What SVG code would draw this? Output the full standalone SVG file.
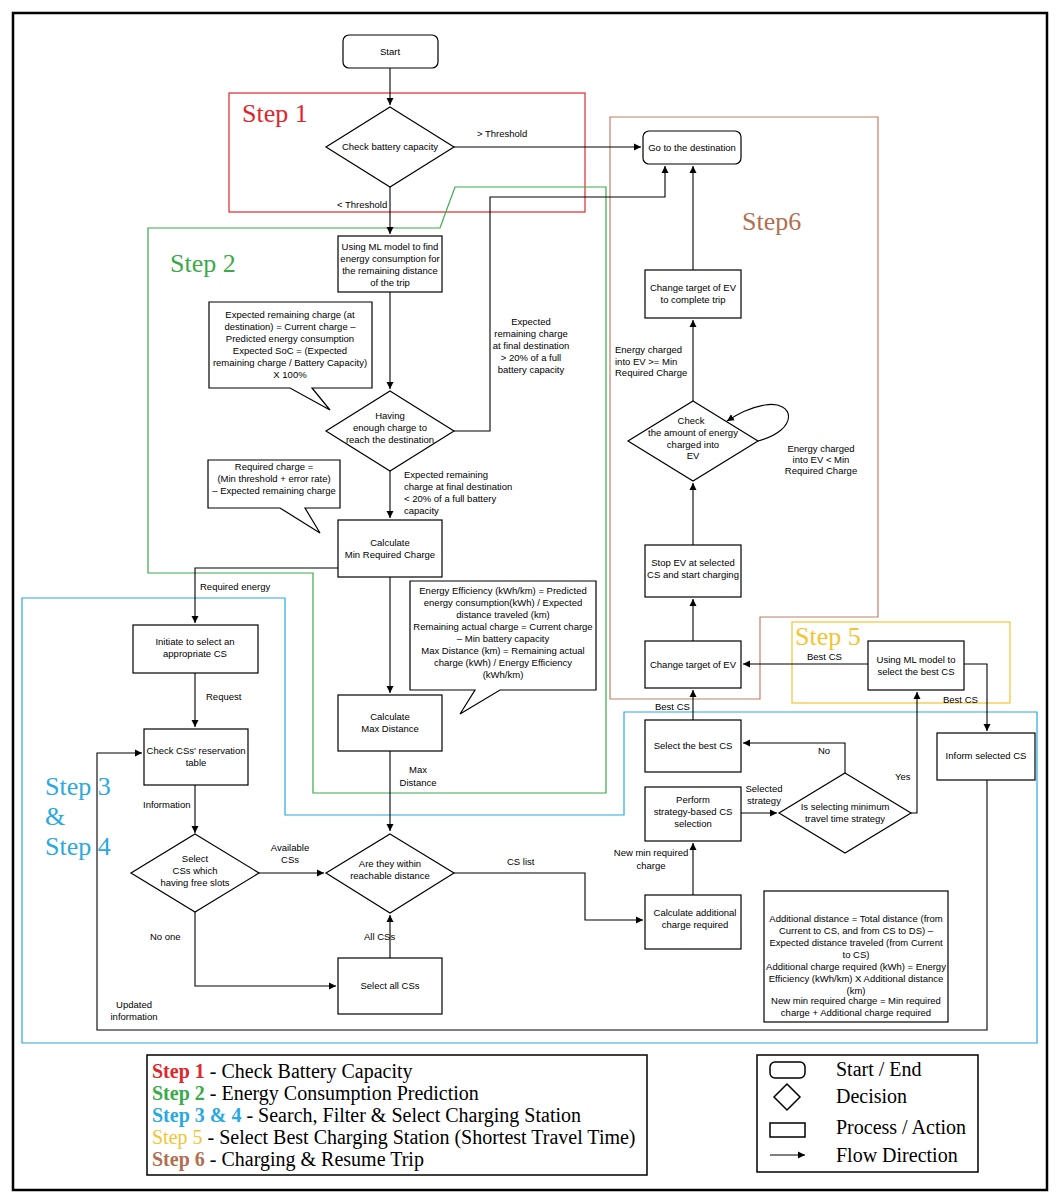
<svg xmlns="http://www.w3.org/2000/svg" width="1060" height="1200" viewBox="0 0 1060 1200">
<style>
.b{fill:#fff;stroke:#000;stroke-width:1.2}
.t{font-family:"Liberation Sans",Arial,sans-serif;font-size:9.5px;fill:#000;text-anchor:middle}
.l{font-family:"Liberation Sans",Arial,sans-serif;font-size:9.5px;fill:#000}
.c{fill:none;stroke:#000;stroke-width:1.1}
.s{font-family:"Liberation Serif","Times New Roman",serif;font-size:26px}
.g{font-family:"Liberation Serif","Times New Roman",serif;font-size:20px;fill:#000}
</style>
<defs><marker id="a" markerWidth="8" markerHeight="8" refX="7" refY="4" orient="auto" markerUnits="userSpaceOnUse"><path d="M0,0.5 L7,4 L0,7.5z" fill="#000"/></marker></defs>
<rect x="0" y="0" width="1060" height="1200" fill="#fff"/>
<rect x="13" y="13" width="1034" height="1177" fill="none" stroke="#000" stroke-width="2.5"/>
<g id="regions" fill="none" stroke-width="1.2">
<rect x="229" y="93" width="356" height="119" stroke="#e0262b"/>
<path d="M610,117 H878 V617 H760 V699 H610 Z" stroke="#c0806a"/>
<path d="M148,228 H440 L455,187 H606 V793 H313 V573 H148 Z" stroke="#3aaa4a"/>
<path d="M22,598 H285 V815 H624 V712 H1037 V1043 H22 Z" stroke="#2aa8e0"/>
<rect x="792" y="622" width="218" height="81" stroke="#f4c430"/>
</g>
<g id="steplabels" class="s">
<text x="242" y="122" fill="#e0262b">Step 1</text>
<text x="170" y="272" fill="#3aaa4a">Step 2</text>
<text x="45" y="795" fill="#2aa8e0">Step 3</text>
<text x="45" y="825" fill="#2aa8e0">&amp;</text>
<text x="45" y="855" fill="#2aa8e0">Step 4</text>
<text x="795" y="645" fill="#f4c430">Step 5</text>
<text x="742" y="230" fill="#b07050">Step6</text>
</g>
<g id="connectors">
<path class="c" d="M390,68 V105" marker-end="url(#a)"/>
<path class="c" d="M454,147 H641" marker-end="url(#a)"/>
<path class="c" d="M390,187 V234" marker-end="url(#a)"/>
<path class="c" d="M390,292 V389" marker-end="url(#a)"/>
<path class="c" d="M454,431 H490 V197 H665 V166" marker-end="url(#a)"/>
<path class="c" d="M390,471 V518" marker-end="url(#a)"/>
<path class="c" d="M338,568 H195 V623" marker-end="url(#a)"/>
<path class="c" d="M195,673 V727" marker-end="url(#a)"/>
<path class="c" d="M195,785 V833" marker-end="url(#a)"/>
<path class="c" d="M259,873 H324" marker-end="url(#a)"/>
<path class="c" d="M195,912 V986 H336" marker-end="url(#a)"/>
<path class="c" d="M390,958 V915" marker-end="url(#a)"/>
<path class="c" d="M390,577 V693" marker-end="url(#a)"/>
<path class="c" d="M390,751 V831" marker-end="url(#a)"/>
<path class="c" d="M454,873 H585 V920 H643" marker-end="url(#a)"/>
<path class="c" d="M693,895 V843" marker-end="url(#a)"/>
<path class="c" d="M741,813 H777" marker-end="url(#a)"/>
<path class="c" d="M845,773 V743 H743" marker-end="url(#a)"/>
<path class="c" d="M693,720 V690" marker-end="url(#a)"/>
<path class="c" d="M911,813 H917 V692" marker-end="url(#a)"/>
<path class="c" d="M868,664 H743" marker-end="url(#a)"/>
<path class="c" d="M964,664 H987 V731" marker-end="url(#a)"/>
<path class="c" d="M987,780 V1030 H97 V753 H142" marker-end="url(#a)"/>
<path class="c" d="M693,641 V599" marker-end="url(#a)"/>
<path class="c" d="M693,545 V483" marker-end="url(#a)"/>
<path class="c" d="M758,441 C800,430 795,400 765,405 C748,408 738,414 727,421" marker-end="url(#a)"/>
<path class="c" d="M693,401 V320" marker-end="url(#a)"/>
<path class="c" d="M693,270 V166" marker-end="url(#a)"/>
<text class="l" x="477" y="137">&gt; Threshold</text>
<text class="l" x="337" y="208">&lt; Threshold</text>
<text class="t" x="531" y="325">Expected</text><text class="t" x="531" y="337">remaining charge</text><text class="t" x="531" y="349">at final destination</text><text class="t" x="531" y="361">&gt; 20% of a full</text><text class="t" x="531" y="373">battery capacity</text>
<text class="l" x="404" y="478">Expected remaining</text><text class="l" x="404" y="490">charge at final destination</text><text class="l" x="404" y="502">&lt; 20% of a full battery</text><text class="l" x="404" y="514">capacity</text>
<text class="l" x="200" y="590">Required energy</text>
<text class="l" x="206" y="700">Request</text>
<text class="l" x="143" y="808">Information</text>
<text class="t" x="290" y="851">Available</text><text class="t" x="290" y="863">CSs</text>
<text class="l" x="150" y="940">No one</text>
<text class="l" x="364" y="940">All CSs</text>
<text class="t" x="418" y="773">Max</text><text class="t" x="418" y="786">Distance</text>
<text class="l" x="507" y="865">CS list</text>
<text class="t" x="651" y="856">New min required</text><text class="t" x="651" y="869">charge</text>
<text class="t" x="764" y="792">Selected</text><text class="t" x="764" y="804">strategy</text>
<text class="l" x="818" y="754">No</text>
<text class="l" x="655" y="710">Best CS</text>
<text class="l" x="895" y="780">Yes</text>
<text class="l" x="807" y="660">Best CS</text>
<text class="l" x="943" y="703">Best CS</text>
<text class="t" x="134" y="1008">Updated</text><text class="t" x="134" y="1020">information</text>
<text class="l" x="615" y="353">Energy charged</text><text class="l" x="615" y="365">into EV &gt;= Min</text><text class="l" x="615" y="376">Required Charge</text>
<text class="t" x="821" y="452">Energy charged</text><text class="t" x="821" y="463">into EV &lt; Min</text><text class="t" x="821" y="474">Required Charge</text>
</g>
<g id="start"><rect class="b" x="343" y="35" width="95" height="33" rx="6"/><text class="t" x="390" y="55">Start</text></g>
<g id="checkbattery"><path class="b" d="M390,107 L454,147 L390,187 L326,147 Z"/><text class="t" x="390" y="150">Check battery capacity</text></g>
<g id="goto"><rect class="b" x="643" y="131" width="98" height="33" rx="6"/><text class="t" x="692" y="151">Go to the destination</text></g>
<g id="mlenergy"><rect class="b" x="338" y="236" width="104" height="56"/><text class="t" x="390" y="250">Using ML model to find</text><text class="t" x="390" y="262">energy consumption for</text><text class="t" x="390" y="274">the remaining distance</text><text class="t" x="390" y="286">of the trip</text></g>
<g id="note1"><path class="b" d="M209,302 H372 V388 H312 L330,410 L290,388 H209 Z"/><text class="t" x="290" y="318">Expected remaining charge (at</text><text class="t" x="290" y="330">destination) = Current charge –</text><text class="t" x="290" y="342">Predicted energy consumption</text><text class="t" x="290" y="354">Expected SoC = (Expected</text><text class="t" x="290" y="366">remaining charge / Battery Capacity)</text><text class="t" x="290" y="378">X 100%</text></g>
<g id="enough"><path class="b" d="M390,391 L454,431 L390,471 L326,431 Z"/><text class="t" x="390" y="419">Having</text><text class="t" x="390" y="431">enough charge to</text><text class="t" x="390" y="443">reach the destination</text></g>
<g id="note2"><path class="b" d="M208,460 H340 V508 H305 L320,533 L280,508 H208 Z"/><text class="t" x="274" y="470">Required charge =</text><text class="t" x="274" y="482">(Min threshold + error rate)</text><text class="t" x="274" y="494">– Expected remaining charge</text></g>
<g id="calcmin"><rect class="b" x="338" y="520" width="104" height="57"/><text class="t" x="390" y="546">Calculate</text><text class="t" x="390" y="558">Min Required Charge</text></g>
<g id="initiate"><rect class="b" x="133" y="625" width="125" height="48"/><text class="t" x="195" y="645">Initiate to select an</text><text class="t" x="195" y="657">appropriate CS</text></g>
<g id="reservation"><rect class="b" x="144" y="729" width="104" height="56"/><text class="t" x="196" y="754">Check CSs' reservation</text><text class="t" x="196" y="766">table</text></g>
<g id="freeslots"><path class="b" d="M195,834 L259,873 L195,912 L131,873 Z"/><text class="t" x="195" y="862">Select</text><text class="t" x="195" y="874">CSs which</text><text class="t" x="195" y="886">having free slots</text></g>
<g id="reachable"><path class="b" d="M390,834 L454,873 L390,913 L326,873 Z"/><text class="t" x="390" y="867">Are they within</text><text class="t" x="390" y="879">reachable distance</text></g>
<g id="selectall"><rect class="b" x="338" y="958" width="104" height="56"/><text class="t" x="390" y="989">Select all CSs</text></g>
<g id="note3"><path class="b" d="M410,581 H596 V690 H500 L460,714 L475,690 H410 Z"/><text class="t" x="503" y="594">Energy Efficiency (kWh/km) = Predicted</text><text class="t" x="503" y="606">energy consumption(kWh) / Expected</text><text class="t" x="503" y="618">distance traveled (km)</text><text class="t" x="503" y="630">Remaining actual charge = Current charge</text><text class="t" x="503" y="642">– Min battery capacity</text><text class="t" x="503" y="654">Max Distance (km) = Remaining actual</text><text class="t" x="503" y="666">charge (kWh) /  Energy Efficiency</text><text class="t" x="503" y="678">(kWh/km)</text></g>
<g id="calcmax"><rect class="b" x="338" y="695" width="104" height="56"/><text class="t" x="390" y="720">Calculate</text><text class="t" x="390" y="732">Max Distance</text></g>
<g id="calcadd"><rect class="b" x="645" y="895" width="96" height="54"/><text class="t" x="695" y="916">Calculate additional</text><text class="t" x="695" y="928">charge required</text></g>
<g id="note4"><rect class="b" x="764" y="891" width="184" height="131"/><text class="t" x="856" y="922">Additional distance = Total distance (from</text><text class="t" x="856" y="934">Current to CS, and from CS to DS) –</text><text class="t" x="856" y="946">Expected distance traveled (from Current</text><text class="t" x="856" y="958">to CS)</text><text class="t" x="856" y="970">Additional charge required (kWh) = Energy</text><text class="t" x="856" y="982">Efficiency (kWh/km) X Additional distance</text><text class="t" x="856" y="994">(km)</text><text class="t" x="856" y="1004">New min required charge = Min required</text><text class="t" x="856" y="1016">charge + Additional charge required</text></g>
<g id="perform"><rect class="b" x="645" y="787" width="96" height="54"/><text class="t" x="693" y="803">Perform</text><text class="t" x="693" y="815">strategy-based CS</text><text class="t" x="693" y="827">selection</text></g>
<g id="strategy"><path class="b" d="M845,773 L911,813 L845,853 L779,813 Z"/><text class="t" x="845" y="810">Is selecting minimum</text><text class="t" x="845" y="822">travel time strategy</text></g>
<g id="selectbest"><rect class="b" x="645" y="720" width="96" height="52"/><text class="t" x="693" y="749">Select the best CS</text></g>
<g id="changetarget"><rect class="b" x="645" y="641" width="96" height="47"/><text class="t" x="693" y="668">Change target of EV</text></g>
<g id="mlbest"><rect class="b" x="868" y="641" width="96" height="49"/><text class="t" x="916" y="663">Using ML model to</text><text class="t" x="916" y="675">select the best CS</text></g>
<g id="inform"><rect class="b" x="937" y="733" width="98" height="47"/><text class="t" x="986" y="759">Inform selected CS</text></g>
<g id="stopev"><rect class="b" x="645" y="545" width="96" height="52"/><text class="t" x="693" y="566">Stop EV at selected</text><text class="t" x="693" y="578">CS and start charging</text></g>
<g id="checkenergy"><path class="b" d="M693,401 L758,441 L693,481 L628,441 Z"/><text class="t" x="691" y="424">Check</text><text class="t" x="693" y="436">the amount of energy</text><text class="t" x="693" y="448">charged into</text><text class="t" x="693" y="459">EV</text></g>
<g id="complete"><rect class="b" x="645" y="270" width="96" height="48"/><text class="t" x="693" y="291">Change target of EV</text><text class="t" x="693" y="303">to complete trip</text></g>
<g id="legend">
<rect x="147" y="1055" width="500" height="120" fill="none" stroke="#000" stroke-width="1.5"/>
<text class="g" x="152" y="1078"><tspan fill="#e0262b" font-weight="bold">Step 1</tspan> - Check Battery Capacity</text>
<text class="g" x="152" y="1100"><tspan fill="#3aaa4a" font-weight="bold">Step 2</tspan> - Energy Consumption Prediction</text>
<text class="g" x="152" y="1122"><tspan fill="#2aa8e0" font-weight="bold">Step 3 &amp; 4</tspan> - Search, Filter &amp; Select Charging Station</text>
<text class="g" x="152" y="1144"><tspan fill="#f4c430">Step 5</tspan> - Select Best Charging Station (Shortest Travel Time)</text>
<text class="g" x="152" y="1166"><tspan fill="#b07050" font-weight="bold">Step 6</tspan> - Charging &amp; Resume Trip</text>
<rect x="757" y="1055" width="221" height="117" fill="none" stroke="#000" stroke-width="1.5"/>
<rect x="770" y="1062" width="35" height="16" rx="5" fill="none" stroke="#000" stroke-width="1.5"/>
<path d="M787,1084 L800,1097 L787,1110 L774,1097 Z" fill="none" stroke="#000" stroke-width="1.5"/>
<rect x="770" y="1123" width="35" height="14" fill="none" stroke="#000" stroke-width="1.5"/>
<path class="c" d="M770,1155 H805" marker-end="url(#a)"/>
<text class="g" x="836" y="1076">Start / End</text>
<text class="g" x="836" y="1103">Decision</text>
<text class="g" x="836" y="1134">Process / Action</text>
<text class="g" x="836" y="1162">Flow Direction</text>
</g>
</svg>
